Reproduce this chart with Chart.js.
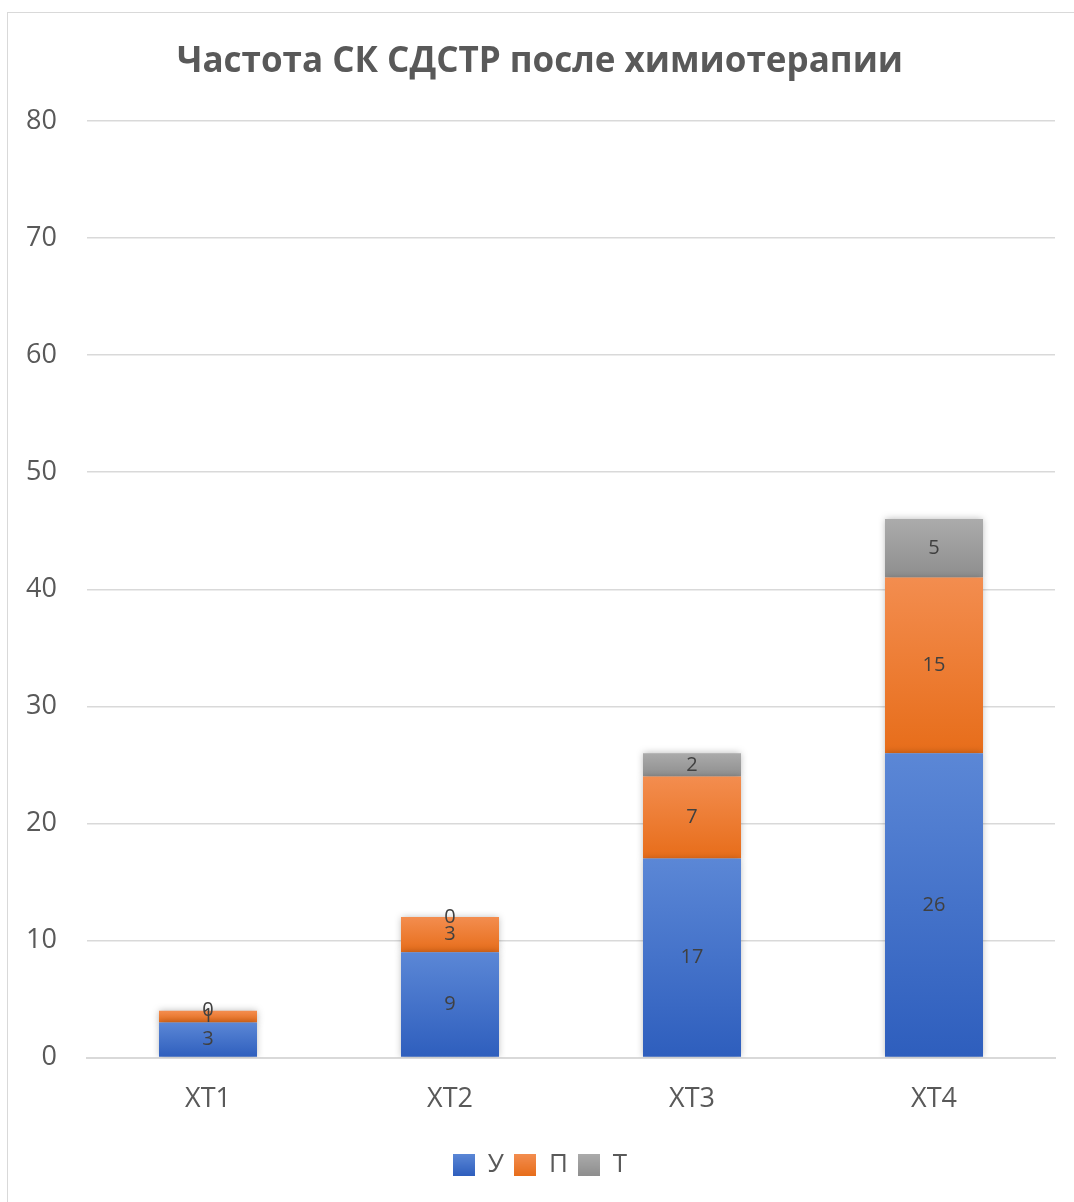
<!DOCTYPE html>
<html>
<head>
<meta charset="utf-8">
<script src="https://cdn.jsdelivr.net/npm/chart.js@4"></script>
<style>
  body { margin: 0; background: #fff; overflow: hidden; }
  #frame { position: absolute; left: 7px; top: 12px; width: 1100px; height: 1220px; border: 1px solid #d9d9d9; }
  #wrap { position: absolute; left: 0; top: 0; width: 1074px; height: 1202px; }
</style>
</head>
<body>
<div id="frame"></div>
<div id="wrap"><canvas id="chart" width="1074" height="1202"></canvas></div>
<script>
// Categories and series
const categories = ['ХТ1', 'ХТ2', 'ХТ3', 'ХТ4'];
const seriesU = [3, 9, 17, 26];
const seriesP = [1, 3, 7, 15];
const seriesT = [0, 0, 2, 5];
const seriesNames = ['У', 'П', 'Т'];
const yTicks = [0, 10, 20, 30, 40, 50, 60, 70, 80];

// top / bottom colours of each series gradient
const gradTop = ['#5b87d6', '#f38d4f', '#ababab'];
const gradBottom = ['#2e5ebd', '#e76d1a', '#8e8e8e'];
const allSeries = [seriesU, seriesP, seriesT];

const textColor = '#595959';
const fontFamily = "'Open Sans', 'Noto Sans', sans-serif";

// gradient fill for each stacked segment
function segmentFill(dsIndex) {
    return function (context) {
        const chart = context.chart;
        if (!chart.chartArea || context.type !== 'data') return gradTop[dsIndex];
        const y = chart.scales.y;
        let base = 0;
        for (let i = 0; i < dsIndex; i++) base += allSeries[i][context.dataIndex];
        const top = base + allSeries[dsIndex][context.dataIndex];
        const g = chart.ctx.createLinearGradient(0, y.getPixelForValue(top), 0, y.getPixelForValue(base));
        g.addColorStop(0, gradTop[dsIndex]);
        g.addColorStop(1, gradBottom[dsIndex]);
        return g;
    };
}

// small gradient squares for the legend
function legendSwatch(i) {
    const c = document.createElement('canvas');
    c.width = 22; c.height = 22;
    const x = c.getContext('2d');
    const g = x.createLinearGradient(0, 0, 0, 22);
    g.addColorStop(0, gradTop[i]);
    g.addColorStop(1, gradBottom[i]);
    x.fillStyle = g;
    x.fillRect(0, 0, 22, 22);
    return c;
}

// soft shadow around bars, like Excel
const barShadow = {
    id: 'barShadow',
    beforeDatasetsDraw(chart) {
        chart.ctx.save();
        chart.ctx.shadowColor = 'rgba(0,0,0,0.28)';
        chart.ctx.shadowBlur = 7;
    },
    afterDatasetsDraw(chart) {
        chart.ctx.restore();
    }
};

// value labels centred in each segment
const valueLabels = {
    id: 'valueLabels',
    afterDatasetsDraw(chart) {
        const ctx = chart.ctx;
        ctx.save();
        ctx.font = "20px " + fontFamily;
        ctx.fillStyle = '#404040';
        ctx.textAlign = 'center';
        ctx.textBaseline = 'middle';
        chart.data.datasets.forEach((ds, di) => {
            chart.getDatasetMeta(di).data.forEach((bar, i) => {
                const p = bar.getProps(['x', 'y', 'base'], true);
                ctx.fillText(String(ds.data[i]), p.x, (p.y + p.base) / 2);
            });
        });
        ctx.restore();
    }
};

const datasets = seriesNames.map((name, i) => ({
    label: name,
    data: allSeries[i],
    backgroundColor: segmentFill(i),
    borderWidth: 0,
    barPercentage: 0.405,
    categoryPercentage: 1
}));

new Chart(document.getElementById('chart').getContext('2d'), {
    type: 'bar',
    data: { labels: categories, datasets: datasets },
    options: {
        responsive: false,
        animation: false,
        layout: { padding: { left: 25, right: 19, top: 0, bottom: 14 } },
        plugins: {
            title: {
                display: true,
                text: 'Частота СК СДСТР после химиотерапии',
                color: textColor,
                font: { family: fontFamily, size: 35, weight: 'bold' },
                padding: { top: 41, bottom: 38 }
            },
            legend: {
                position: 'bottom',
                labels: {
                    color: textColor,
                    font: { family: fontFamily, size: 26 },
                    usePointStyle: true,
                    boxWidth: 22,
                    boxHeight: 22,
                    generateLabels(chart) {
                        return seriesNames.map((n, i) => ({
                            text: n,
                            pointStyle: legendSwatch(i),
                            fontColor: textColor,
                            lineWidth: 0,
                            datasetIndex: i
                        }));
                    },
                    padding: 10
                }
            },
            tooltip: { enabled: false }
        },
        scales: {
            x: {
                stacked: true,
                grid: { display: false, drawTicks: false },
                border: { display: true, color: '#d9d9d9', width: 2 },
                ticks: { color: textColor, font: { family: fontFamily, size: 27 }, padding: 26 }
            },
            y: {
                stacked: true,
                min: 0,
                max: 80,
                afterBuildTicks(scale) { scale.ticks = yTicks.map(v => ({ value: v })); },
                afterFit(scale) { scale.width = 62; },
                grid: { color: '#d9d9d9', lineWidth: 1.5, drawTicks: false },
                border: { display: false },
                ticks: { color: textColor, font: { family: fontFamily, size: 27 }, padding: 30 }
            }
        }
    },
    plugins: [barShadow, valueLabels]
});
</script>
</body>
</html>
